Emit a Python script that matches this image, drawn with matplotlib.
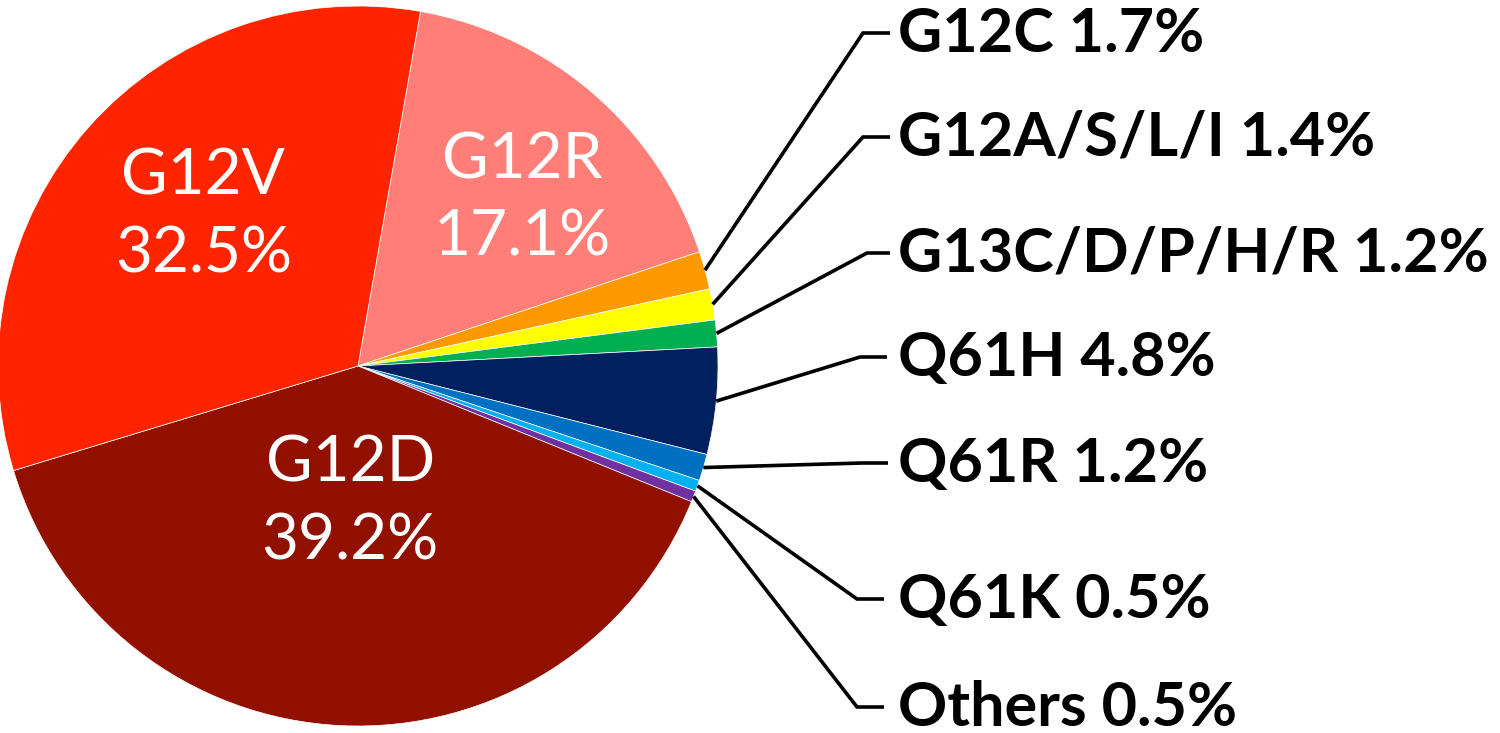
import matplotlib
matplotlib.use("Agg")
import matplotlib.pyplot as plt
import numpy as np

# ---- data ----
categories = ["G12R", "G12C", "G12A/S/L/I", "G13C/D/P/H/R", "Q61H", "Q61R", "Q61K", "Others", "G12D", "G12V"]
values = [17.1, 1.7, 1.4, 1.2, 4.8, 1.2, 0.5, 0.5, 39.2, 32.5]
colors = ["#FF7F78", "#FF9900", "#FFFF00", "#00B050", "#002060", "#0070C0", "#00B0F0", "#7030A0", "#921000", "#FF2400"]

inner = ["G12R", "G12D", "G12V"]
outer = ["G12C", "G12A/S/L/I", "G13C/D/P/H/R", "Q61H", "Q61R", "Q61K", "Others"]

W, H = 1500, 733
fig = plt.figure(figsize=(W / 100, H / 100), dpi=100)
ax = fig.add_axes([0, 0, 1, 1])

cx, cy, R = 358, H - 366, 360
wedges, _ = ax.pie(values, colors=colors, startangle=80, counterclock=False,
                   center=(cx, cy), radius=R, frame=True,
                   wedgeprops=dict(linewidth=0.5, edgecolor="white"))
ax.set_xlim(0, W)
ax.set_ylim(0, H)
ax.set_aspect("equal")
ax.axis("off")

# inner labels (layout: angle offset in degrees, radial fraction)
inner_pos = {"G12R": (-3.7, 0.65), "G12D": (-0.6, 0.38), "G12V": (-2.7, 0.60)}
for w, cat, v in zip(wedges, categories, values):
    if cat in inner:
        doff, f = inner_pos[cat]
        ang = np.deg2rad((w.theta1 + w.theta2) / 2 + doff)
        x = cx + f * R * np.cos(ang)
        y = cy + f * R * np.sin(ang)
        ax.text(x, y, f"{cat}\n{v:.1f}%", color="white", ha="center", va="center",
                fontsize=46, family="Lato", linespacing=1.42)

# outer labels with leader lines (layout positions)
line_y = [33, 137, 253, 357, 463, 599, 707]
elbow_x = [863, 863, 867, 860, 862, 857, 857]
line_end = [890, 890, 890, 887, 888, 884, 884]
text_x = 898
for w, cat, v in zip(wedges, categories, values):
    if cat in outer:
        i = outer.index(cat)
        ang = np.deg2rad((w.theta1 + w.theta2) / 2)
        sx = cx + R * np.cos(ang)
        sy = cy + R * np.sin(ang)
        ly = H - line_y[i]
        ax.plot([sx, elbow_x[i], line_end[i]], [sy, ly, ly], color="black", lw=2.6,
                solid_capstyle="butt", solid_joinstyle="miter")
        ax.text(text_x, ly - 1, f"{cat} {v:.1f}%", ha="left", va="center",
                fontsize=44, fontweight="bold", family="Lato", color="black")

fig.savefig("out.png", dpi=100, facecolor="white")
